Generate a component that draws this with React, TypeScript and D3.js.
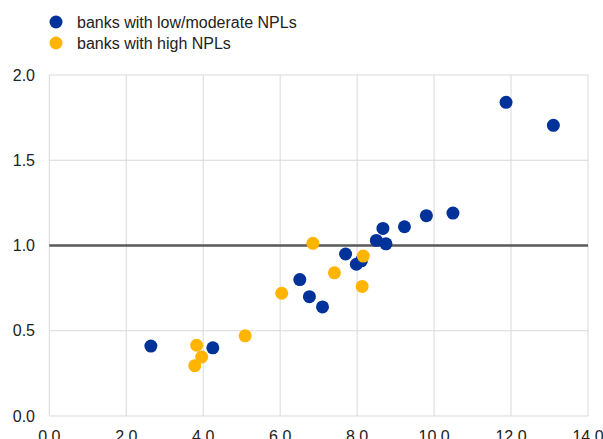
import React from "react";
import * as d3 from "d3";

const W = 603;
const H = 439;

const seriesNames = ["banks with low/moderate NPLs", "banks with high NPLs"];
const seriesColors = ["#003299", "#FFB400"];

const lowX = [2.64, 4.25, 6.51, 6.76, 7.10, 7.70, 7.98, 8.11, 8.50, 8.75, 8.67, 9.23, 9.80, 10.49, 11.87, 13.10];
const lowY = [0.41, 0.40, 0.80, 0.70, 0.64, 0.95, 0.89, 0.91, 1.03, 1.01, 1.10, 1.11, 1.175, 1.19, 1.84, 1.705];

const highX = [3.83, 3.96, 3.78, 5.09, 6.04, 6.85, 7.41, 8.16, 8.13];
const highY = [0.415, 0.346, 0.295, 0.47, 0.72, 1.013, 0.84, 0.938, 0.76];

const xTicks = [0, 2, 4, 6, 8, 10, 12, 14];
const yTicks = [0, 0.5, 1.0, 1.5, 2.0];
const refLine = 1.0;

export default function App() {
  const x = d3.scaleLinear().domain([0, 14]).range([49.3, 588]);
  const y = d3.scaleLinear().domain([0, 2]).range([416, 75]);
  const font = "'Liberation Sans', Arial, sans-serif";
  const series = [
    { xs: lowX, ys: lowY, color: seriesColors[0] },
    { xs: highX, ys: highY, color: seriesColors[1] },
  ];
  return (
    <svg width={W} height={H} style={{ position: "absolute", left: 0, top: 0 }} fontFamily={font}>
      <rect width={W} height={H} fill="#fff" />
      {yTicks.map((t) => (
        <line key={"gy" + t} x1={x(0)} x2={x(14)} y1={y(t)} y2={y(t)} stroke="#d9d9d9" strokeWidth={1} />
      ))}
      {xTicks.map((t) => (
        <line key={"gx" + t} x1={x(t)} x2={x(t)} y1={y(0)} y2={y(2)} stroke="#d9d9d9" strokeWidth={1} />
      ))}
      <line x1={x(0)} x2={x(14)} y1={y(refLine)} y2={y(refLine)} stroke="#595959" strokeWidth={2.5} />
      {yTicks.map((t) => (
        <text key={"ty" + t} x={35} y={y(t)} dy="0.35em" textAnchor="end" fontSize={16} fill="#222">
          {d3.format(".1f")(t)}
        </text>
      ))}
      {xTicks.map((t) => (
        <text key={"tx" + t} x={x(t)} y={441.5} textAnchor="middle" fontSize={16} fill="#222">
          {d3.format(".1f")(t)}
        </text>
      ))}
      {series.map((s, si) =>
        s.xs.map((v, i) => (
          <circle key={si + "-" + i} cx={x(v)} cy={y(s.ys[i])} r={6.5} fill={s.color} />
        ))
      )}
      {seriesNames.map((n, i) => (
        <g key={n} transform={`translate(0, ${22 + i * 21})`}>
          <circle cx={56} cy={0} r={6.5} fill={seriesColors[i]} />
          <text x={77} y={0} dy="0.35em" fontSize={16} fill="#222">
            {n}
          </text>
        </g>
      ))}
    </svg>
  );
}
